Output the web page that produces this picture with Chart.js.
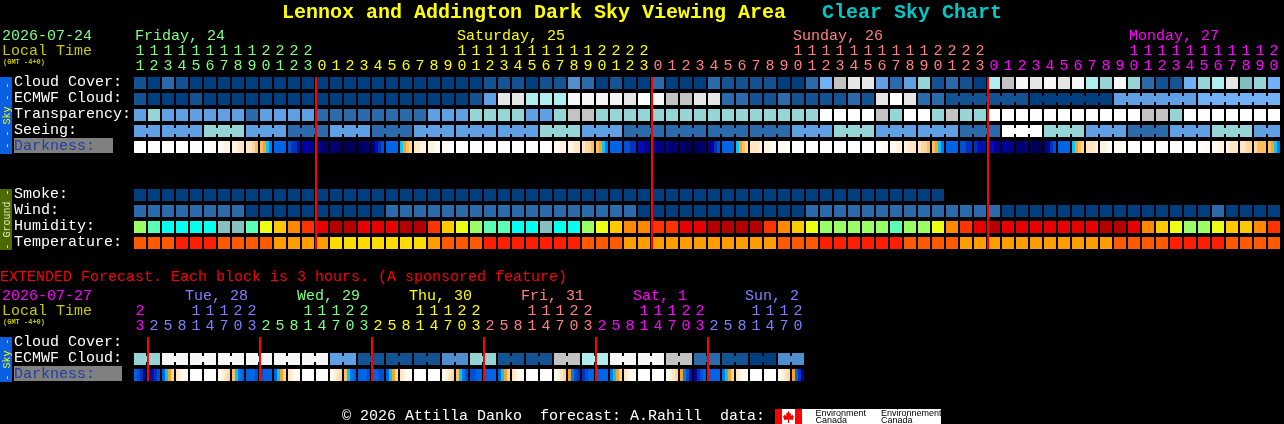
<!DOCTYPE html>
<html>
<head>
<meta charset="utf-8">
<title>Clear Sky Chart</title>
<script src="https://cdn.jsdelivr.net/npm/chart.js@4"></script>
<style>
  html, body { margin: 0; background: #000; overflow: hidden; }
  canvas { display: block; }
</style>
</head>
<body>
<canvas id="csc" width="1284" height="424"></canvas>
<script>
// hours of the 82 hourly columns, and the 48 three-hourly ones
const hours = [11,12,13,14,15,16,17,18,19,20,21,22,23,
  0,1,2,3,4,5,6,7,8,9,10,11,12,13,14,15,16,17,18,19,20,21,22,23,
  0,1,2,3,4,5,6,7,8,9,10,11,12,13,14,15,16,17,18,19,20,21,22,23,
  0,1,2,3,4,5,6,7,8,9,10,11,12,13,14,15,16,17,18,19,20];
const extHours = [23,2,5,8,11,14,17,20,23,2,5,8,11,14,17,20,23,2,5,8,11,14,17,20,23,
  2,5,8,11,14,17,20,23,2,5,8,11,14,17,20,23,2,5,8,11,14,17,20];

const dayNames = ['Friday, 24', 'Saturday, 25', 'Sunday, 26', 'Monday, 27'];
const dayStarts = [0, 13, 37, 61];
const extDayNames = ['Tue, 28', 'Wed, 29', 'Thu, 30', 'Fri, 31', 'Sat, 1', 'Sun, 2'];
const extDayStarts = [1, 9, 17, 25, 33, 41];
const skyLabels = ['Cloud Cover:', 'ECMWF Cloud:', 'Transparency:', 'Seeing:', 'Darkness:'];
const groundLabels = ['Smoke:', 'Wind:', 'Humidity:', 'Temperature:'];
const extLabels = ['Cloud Cover:', 'ECMWF Cloud:', 'Darkness:'];

// forecast levels (index into the palettes below)
const cloud = [1,0,2,1,0,0,0,0,0,0,0,0,0,
  0,0,0,0,0,0,0,0,0,0,0,0,1,1,1,0,1,1,3,2,0,1,0,0,
  2,0,0,0,2,1,1,1,1,0,0,2,5,9,10,10,4,2,4,7,1,2,1,0,
  8,9,11,10,11,10,11,8,7,11,7,2,1,1,5,7,8,10,6,7,5];
const ecmwf = [1,0,0,0,1,0,0,0,0,0,0,0,0,
  0,0,0,0,0,0,0,0,0,0,0,1,4,10,10,8,8,8,11,11,11,11,10,12,
  11,9,9,10,10,2,2,1,1,2,1,1,1,1,2,1,10,12,10,2,2,1,1,1,
  1,1,1,0,0,0,0,0,0,4,4,4,4,4,4,5,5,5,5,5,5];
const transparency = [4,7,4,4,4,4,4,4,2,4,4,4,4,
  2,2,2,2,2,2,2,2,4,4,4,7,7,7,7,4,4,7,9,9,7,7,7,7,
  7,7,7,7,7,7,7,7,7,7,7,7,12,12,12,12,9,7,12,12,7,9,7,7,
  12,12,12,12,12,12,12,12,12,12,12,9,9,7,12,12,12,12,12,12,12];
const seeing = [4,4,4,4,4,7,7,7,4,4,4,2,2,
  2,4,4,4,2,2,2,4,4,4,4,4,4,4,4,4,7,7,7,4,4,4,2,2,
  2,2,2,2,2,2,2,2,2,2,4,4,4,7,7,7,4,4,4,4,4,4,2,2,
  2,12,12,12,7,7,7,4,4,4,2,2,2,4,4,4,7,7,7,4,4];
const smoke = [0,0,0,0,0,0,0,0,0,0,0,0,0,
  0,0,0,0,0,0,0,0,0,0,0,0,0,0,0,0,0,0,0,0,0,0,0,0,
  0,0,0,0,0,0,0,0,0,0,0,0,0,0,0,0,0,0,0,0,0];
const wind = [2,2,2,2,2,2,2,2,0,0,0,0,0,
  0,0,0,0,0,2,2,2,2,2,2,2,2,2,2,2,2,2,2,2,2,2,2,0,
  0,0,0,0,0,0,0,0,0,0,0,2,2,2,2,2,2,2,2,2,2,2,2,2,
  2,0,0,0,0,0,0,0,0,0,0,0,0,0,0,0,2,0,0,0,0];
const humidity = [3,2,0,0,0,0,1,1,2,4,5,6,7,
  8,9,9,8,8,8,9,9,7,5,4,3,2,2,0,0,1,0,0,3,4,5,6,6,
  7,7,8,8,9,9,9,9,7,6,5,4,3,3,3,3,3,2,3,3,4,6,7,8,
  9,8,8,8,8,8,8,8,9,9,8,6,5,4,3,3,4,5,5,6,7];
const temperature = [1,1,1,0,0,0,1,1,1,1,2,2,2,
  2,3,3,3,3,3,3,3,2,1,1,1,0,0,0,0,0,0,0,1,1,1,2,2,
  2,2,2,2,2,2,2,2,2,1,1,1,0,0,0,0,0,0,1,1,1,1,2,2,
  2,2,2,2,2,2,2,2,2,1,1,1,1,0,0,0,0,1,1,1,1];

// four samples per hourly cell
const darkness = [
  0,0,0,0, 0,0,0,0, 0,0,0,0, 0,0,0,0, 0,0,0,0, 0,0,1,1, 1,1,2,2, 2,2,3,3, 3,3,4,5, 5,6,7,8, 9,9,9,9, 10,11,11,12, 13,13,13,13,
  14,14,15,15, 15,15,15,16, 16,16,16,16, 16,16,15,15, 14,12,11,10, 9,9,9,9, 7,6,5,4, 3,3,2,2, 2,2,1,1, 1,1,0,0, 0,0,0,0,
  0,0,0,0, 0,0,0,0, 0,0,0,0, 0,0,0,0, 0,0,0,0, 0,0,0,1, 1,1,2,2, 2,2,3,3, 3,4,4,5, 5,6,7,8, 9,9,9,9, 10,10,11,11, 12,12,13,13,
  13,14,14,14, 14,15,15,15, 15,16,16,16, 16,16,15,15, 14,13,11,10, 9,9,9,9, 7,6,5,4, 3,3,3,2, 2,2,1,1, 1,1,1,0,
  0,0,0,0, 0,0,0,0, 0,0,0,0, 0,0,0,0, 0,0,0,0, 0,0,0,0, 0,0,1,1, 1,1,2,2, 2,3,3,3, 3,4,4,5, 5,6,7,8, 9,9,9,9, 10,10,11,11, 11,12,12,12,
  12,12,13,13, 13,13,14,14, 15,15,15,14, 16,16,16,16, 15,13,11,10, 9,9,9,9, 7,6,5,4, 3,3,3,2, 2,2,1,1, 1,1,1,0,
  0,0,0,0, 0,0,0,0, 0,0,0,0, 0,0,0,0, 0,0,0,0, 0,0,1,1, 1,1,2,2, 2,3,3,3, 3,3,4,4, 4,5,5,5, 5,6,7,8
];

// extended forecast: ECMWF per 2-column block, darkness four samples per cell
const extEcmwf = [7,11,11,11,11,11,11,4,1,1,1,3,7,1,1,9,8,11,11,9,2,1,0,3];
const extDarkness = [
  9,10,11,13, 14,12,11,10, 9,7,6,4, 3,2,1,0, 0,0,0,0, 0,0,0,0, 1,2,3,4, 5,7,8,9,
  9,9,9,10, 10,9,9,9, 9,7,6,4, 3,2,1,0, 0,0,0,0, 0,0,0,0, 1,2,3,4, 5,7,8,9,
  9,9,9,10, 9,9,10,10, 9,7,6,4, 3,2,1,0, 0,0,0,0, 0,0,0,0, 1,2,3,4, 5,7,8,10,
  10,10,9,9, 9,9,9,9, 9,7,6,4, 3,2,1,0, 0,0,0,0, 0,0,0,0, 1,2,3,4, 6,8,10,11,
  11,10,9,9, 9,9,9,9, 8,7,6,4, 3,2,1,1, 0,0,0,0, 0,0,0,0, 1,2,3,4, 6,8,10,12,
  13,11,10,9, 9,9,9,9, 8,7,6,4, 3,2,1,1, 0,0,0,0, 0,0,0,0, 1,2,3,4, 6,9,11,13
];

// columns joined to the next one
const ecmwfJoins = [58,59,60,61,62,64,65,66,67,68,70,71,72,73,74,76,77,78,79,80];
const seeingJoins = [0,2,3,5,6,8,9,11,12,14,15,17,18,20,21,23,24,26,27,29,30,32,33,35,36,38,39,41,42,44,45,47,48,50,51,53,54,56,57,59,60,62,63,65,66,68,69,71,72,74,75,77,78,80];
const midnights = [13, 37, 61];
const extMidnights = [1, 9, 17, 25, 33, 41];

// palettes
const skyColors = ['#003f7f','#135393','#2b6bab','#4f8fcf','#5f9fe3','#70b0f4','#7fbfbf','#95d5d5','#aeeeee','#c3c3c3','#e6e6e6','#f6f6f6','#ffffff'];
const humidityColors = ['#06ffee','#85c0c0','#5affb4','#9aff64','#eaff14','#ffc800','#ff8800','#ff3300','#e80000','#b40000'];
const temperatureColors = ['#ff1e00','#ff5a00','#ff9c00','#ffdc00'];
const darknessColors = ['#ffffff','#fffaf2','#fff2e0','#ffe6c4','#ffd69c','#ffbe5c','#ffa01e','#00c8ff','#0078f0','#0064e6','#0050d2','#0032c0','#0010b0','#0000a0','#000088','#000070','#000058'];
const dayColors = ['#80ff80', '#ffff00', '#ff8080', '#ff00ff'];
const extDayColors = ['#8080ff', '#80ff80', '#ffff00', '#ff8080', '#ff00ff', '#8080ff'];

// layout: one column unit is 14px, one row unit is 16px
const COL = 14, ROW = 16, LEFT = 134, TOP = 77;
const CELL = 12 / COL, CELL_H = 12 / ROW;
const SKY_ROW = 0, GROUND_ROW = 7, EXT_ROW = 16.25;

function cells(values, rowNo, palette) {
  return {
    data: values.map((v, i) => ({ x: i + CELL / 2, y: [rowNo, rowNo + CELL_H] })),
    backgroundColor: values.map(v => palette[v]),
    barThickness: 12
  };
}

function joins(cols, values, rowNo, palette) {
  return {
    data: cols.map(c => ({ x: c + 13 / COL, y: [rowNo + 3 / ROW, rowNo + 9 / ROW] })),
    backgroundColor: cols.map(c => palette[values[c]]),
    barThickness: 2
  };
}

function samples(values, rowNo, palette) {
  return {
    data: values.map((v, i) => ({ x: Math.floor(i / 4) + (1.5 + 3 * (i % 4)) / COL, y: [rowNo, rowNo + CELL_H] })),
    backgroundColor: values.map(v => palette[v]),
    barThickness: 3
  };
}

function redLines(cols, from, to) {
  return {
    data: cols.map(c => ({ x: c, y: [from, to] })),
    backgroundColor: '#ff0000',
    barThickness: 2
  };
}

const extEcmwfCols = extEcmwf.flatMap(v => [v, v]);
const extJoinCols = extEcmwf.map((v, i) => i * 2);

const datasets = [
  redLines(midnights, SKY_ROW, GROUND_ROW + 3 + CELL_H),
  redLines(extMidnights, EXT_ROW, EXT_ROW + 2 + CELL_H),
  cells(cloud, SKY_ROW, skyColors),
  cells(ecmwf, SKY_ROW + 1, skyColors),
  joins(ecmwfJoins, ecmwf, SKY_ROW + 1, skyColors),
  cells(transparency, SKY_ROW + 2, skyColors),
  cells(seeing, SKY_ROW + 3, skyColors),
  joins(seeingJoins, seeing, SKY_ROW + 3, skyColors),
  samples(darkness, SKY_ROW + 4, darknessColors),
  cells(smoke, GROUND_ROW, skyColors),
  cells(wind, GROUND_ROW + 1, skyColors),
  cells(humidity, GROUND_ROW + 2, humidityColors),
  cells(temperature, GROUND_ROW + 3, temperatureColors),
  cells(extEcmwfCols, EXT_ROW + 1, skyColors),
  joins(extJoinCols, extEcmwfCols, EXT_ROW + 1, skyColors),
  samples(extDarkness, EXT_ROW + 2, darknessColors)
];
datasets.forEach(d => { d.stack = 'grid'; d.inflateAmount = 0; d.borderWidth = 0; });

const MONO = '"Liberation Mono", monospace';

function put(ctx, text, x, y, color, font, align) {
  ctx.fillStyle = color;
  ctx.font = font || '15px ' + MONO;
  ctx.textAlign = align || 'left';
  ctx.textBaseline = 'alphabetic';
  ctx.fillText(text, x, y);
}

function sideBar(ctx, y0, y1, fill, text, color) {
  ctx.fillStyle = fill;
  ctx.fillRect(0, y0, 12, y1 - y0);
  ctx.save();
  ctx.translate(9.5, (y0 + y1) / 2);
  ctx.rotate(-Math.PI / 2);
  put(ctx, text, 0, 0, color, '10px ' + MONO, 'center');
  ctx.restore();
}

function hourDigits(chart, list, y10, y1, colorAt) {
  const ctx = chart.ctx, sx = chart.scales.x;
  list.forEach((h, i) => {
    const x = sx.getPixelForValue(i + CELL / 2);
    if (h >= 10) put(ctx, String(Math.floor(h / 10)), x, y10, colorAt(i), null, 'center');
    put(ctx, String(h % 10), x, y1, colorAt(i), null, 'center');
  });
}

function leaf(ctx, cx, top) {
  const pts = [[0,0],[1.5,2.5],[2.5,2],[2.2,5],[4,3.5],[4.5,5],[5.5,5],[4.5,8],[4.8,9],[0.6,8.6],[0.6,12],[-0.6,12],[-0.6,8.6],[-4.8,9],[-4.5,8],[-5.5,5],[-4.5,5],[-4,3.5],[-2.2,5],[-2.5,2],[-1.5,2.5]];
  ctx.beginPath();
  pts.forEach((p, i) => i ? ctx.lineTo(cx + p[0], top + p[1]) : ctx.moveTo(cx + p[0], top + p[1]));
  ctx.closePath();
  ctx.fill();
}

const decorations = {
  id: 'decorations',
  beforeDatasetsDraw(chart) {
    const ctx = chart.ctx;
    ctx.fillStyle = '#808080';
    ctx.fillRect(14, 138, 99, 15);
    ctx.fillRect(14, 366, 108, 15);
  },
  afterDraw(chart) {
    const ctx = chart.ctx;
    const TITLE = 'bold 20px ' + MONO;

    put(ctx, 'Lennox and Addington Dark Sky Viewing Area', 282, 18, '#ffff00', TITLE);
    put(ctx, 'Clear Sky Chart', 822, 18, '#00c8c8', TITLE);

    sideBar(ctx, 77, 154, '#0a60e0', '- - Sky - -', '#ffff00');
    sideBar(ctx, 189, 250, '#4c6a00', '- Ground -', '#e8e8c8');
    sideBar(ctx, 337, 382, '#0a60e0', '- Sky -', '#ffff00');

    // main block header
    put(ctx, '2026-07-24', 2, 40, '#80ff80');
    put(ctx, 'Local Time', 2, 55, '#c8c800');
    put(ctx, '(GMT -4+0)', 3, 64, '#c8c800', 'bold 7px ' + MONO);
    dayNames.forEach((d, i) => {
      const col = i === 0 ? 0 : dayStarts[i] + 10;
      put(ctx, d, LEFT + 1 + col * COL, 40, dayColors[i]);
    });
    const dayOf = i => dayStarts.filter(s => s <= i).length - 1;
    hourDigits(chart, hours, 55, 70, i => dayColors[dayOf(i)]);

    skyLabels.forEach((t, i) => {
      put(ctx, t, 14, 86 + i * ROW, i === 4 ? '#2040a0' : '#ffffff');
    });
    groundLabels.forEach((t, i) => put(ctx, t, 14, 198 + i * ROW, '#ffffff'));

    // extended block
    put(ctx, 'EXTENDED Forecast. Each block is 3 hours. (A sponsored feature)', 0, 281, '#ff0000');
    put(ctx, '2026-07-27', 2, 300, '#ff00ff');
    put(ctx, 'Local Time', 2, 315, '#c8c800');
    put(ctx, '(GMT -4+0)', 3, 324, '#c8c800', 'bold 7px ' + MONO);
    extDayNames.forEach((d, i) => {
      put(ctx, d, LEFT - 5 + (extDayStarts[i] + 3) * COL, 300, extDayColors[i]);
    });
    const extDayOf = i => extDayStarts.filter(s => s <= i).length - 1;
    hourDigits(chart, extHours, 315, 330, i => i === 0 ? '#ff00ff' : extDayColors[extDayOf(i)]);
    extLabels.forEach((t, i) => {
      put(ctx, t, 14, 346 + i * ROW, i === 2 ? '#2040a0' : '#ffffff');
    });

    // footer
    put(ctx, '\u00a9 2026 Attilla Danko  forecast: A.Rahill  data:', 342, 420, '#ffffff');
    ctx.fillStyle = '#ffffff';
    ctx.fillRect(775, 409, 166, 15);
    ctx.fillStyle = '#ff0000';
    ctx.fillRect(775, 409, 7, 15);
    ctx.fillRect(795, 409, 7, 15);
    leaf(ctx, 788.5, 411);
    const SMALL = '9px "Liberation Sans", sans-serif';
    put(ctx, 'Environment', 815.5, 416, '#000000', SMALL);
    put(ctx, 'Canada', 815.5, 423, '#000000', SMALL);
    put(ctx, 'Environnement', 881, 416, '#000000', SMALL);
    put(ctx, 'Canada', 881, 423, '#000000', SMALL);
  }
};

new Chart(document.querySelector('#csc'), {
  type: 'bar',
  data: { datasets },
  options: {
    responsive: false,
    animation: false,
    events: [],
    layout: { padding: 0 },
    plugins: { legend: { display: false }, tooltip: { enabled: false } },
    scales: {
      x: { type: 'linear', display: false, offset: false, bounds: 'data', min: -LEFT / COL, max: (1284 - LEFT) / COL },
      y: { type: 'linear', display: false, reverse: true, stacked: false, bounds: 'data', min: -TOP / ROW, max: (424 - TOP) / ROW }
    }
  },
  plugins: [decorations]
});
</script>
</body>
</html>
